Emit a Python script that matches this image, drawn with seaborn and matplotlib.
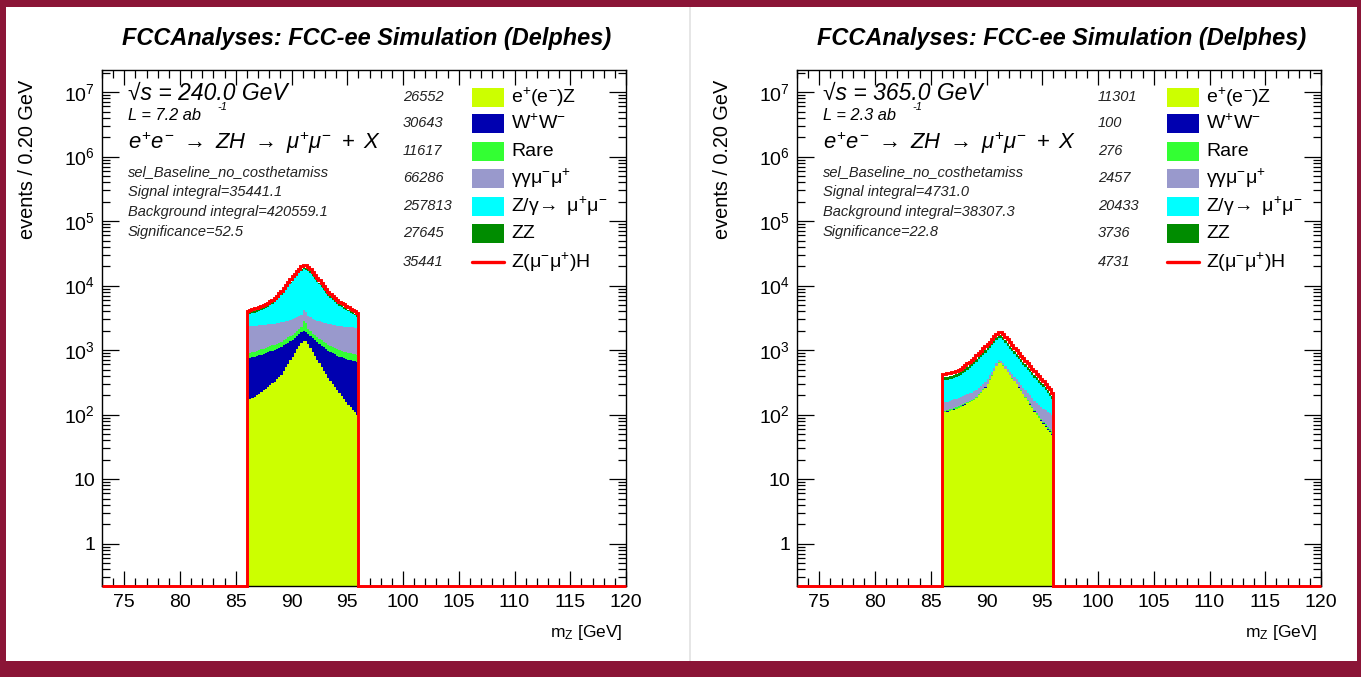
import numpy as np
import pandas as pd
import seaborn as sns
import matplotlib
matplotlib.use("Agg")
import matplotlib.pyplot as plt
from matplotlib.patches import Rectangle
from matplotlib.lines import Line2D
from matplotlib.ticker import MultipleLocator, LogLocator, FuncFormatter, NullFormatter

# ---------------------------------------------------------------- data
bin_width = 0.2
x_lo, x_hi = 73.0, 120.0
stack_lo, stack_hi = 86.0, 96.0
y_lo, y_hi = 0.22, 2.2e7

processes = ["eeZ", "WW", "Rare", "aamumu", "Zgamma", "ZZ"]
proc_labels = [r"$\mathrm{e^{+}(e^{-})Z}$", r"$\mathrm{W^{+}W^{-}}$", "Rare",
               r"$\mathrm{\gamma\gamma\mu^{-}\mu^{+}}$",
               r"$\mathrm{Z/\gamma\!\rightarrow\ \mu^{+}\mu^{-}}$", "ZZ"]
signal_label = r"$\mathrm{Z(\mu^{-}\mu^{+})H}$"
proc_colors = ["#ccff00", "#0000b0", "#33ff33", "#9999cc", "#00ffff", "#008c00"]
signal_color = "#ff0000"

# ---- sqrt(s) = 240 GeV, events per 0.2 GeV bin from 86.0 to 96.0 GeV
eez_240 = [170, 175, 182, 190, 200, 212, 224, 238, 252, 268,
           285, 304, 325, 350, 378, 410, 470, 540, 610, 690,
           780, 900, 1030, 1170, 1300, 1400, 1380, 1230, 1080, 940,
           820, 710, 630, 550, 480, 420, 370, 335, 300, 270,
           240, 217, 195, 176, 158, 142, 130, 118, 108, 99]
ww_240 = [580, 585, 590, 600, 610, 620, 630, 640, 650, 660,
          670, 680, 690, 700, 705, 710, 710, 705, 700, 690,
          675, 660, 640, 620, 600, 570, 560, 560, 570, 580,
          595, 605, 615, 620, 620, 615, 610, 600, 590, 585,
          580, 578, 576, 574, 572, 570, 568, 566, 565, 565]
rare_240 = [150, 152, 155, 158, 162, 166, 170, 175, 180, 186,
            192, 198, 205, 212, 220, 228, 238, 248, 258, 270,
            282, 295, 310, 330, 380, 900, 700, 330, 300, 285,
            272, 262, 254, 246, 240, 234, 228, 223, 218, 214,
            210, 206, 203, 200, 198, 196, 194, 192, 190, 190]
aamumu_240 = [1450, 1445, 1440, 1435, 1430, 1425, 1420, 1410, 1400, 1390,
              1380, 1370, 1360, 1350, 1340, 1330, 1320, 1310, 1300, 1290,
              1280, 1270, 1265, 1260, 1260, 1300, 1300, 1260, 1260, 1265,
              1270, 1280, 1290, 1300, 1310, 1320, 1330, 1335, 1340, 1345,
              1350, 1355, 1360, 1362, 1365, 1367, 1370, 1370, 1370, 1370]
zgamma_240 = [1184, 1263, 1340, 1427, 1529, 1645, 1763, 1890, 2043, 2203,
              2386, 2663, 3023, 3421, 3865, 4477, 5192, 5989, 6872, 7835,
              8965, 10063, 11237, 12395, 13527, 13846, 13731, 13342, 12306, 11067,
              9801, 8607, 7641, 6765, 5884, 5083, 4358, 3885, 3500, 3103,
              2792, 2514, 2277, 2084, 1888, 1690, 1531, 1374, 1215, 1051]
zz_240 = [248, 254, 260, 267, 276, 286, 295, 306, 318, 330,
          345, 366, 393, 424, 457, 502, 557, 617, 684, 756,
          841, 926, 1016, 1107, 1198, 1264, 1240, 1174, 1089, 992,
          895, 805, 732, 666, 599, 538, 484, 448, 417, 387,
          363, 342, 324, 309, 293, 278, 266, 254, 242, 230]
signal_240 = [318, 326, 333, 343, 353, 366, 378, 391, 407, 423,
              442, 469, 504, 543, 585, 643, 713, 791, 876, 969,
              1077, 1186, 1302, 1418, 1535, 1620, 1589, 1504, 1395, 1271,
              1147, 1031, 938, 853, 767, 690, 620, 574, 535, 496,
              465, 438, 415, 395, 376, 357, 341, 326, 310, 295]
yields_240 = ["26552", "30643", "11617", "66286", "257813", "27645", "35441"]
info_240 = ["√s = 240.0 GeV", "L = 7.2 ab", "sel_Baseline_no_costhetamiss",
            "Signal integral=35441.1", "Background integral=420559.1", "Significance=52.5"]

# ---- sqrt(s) = 365 GeV
eez_365 = [105, 108, 110, 113, 116, 119, 122, 126, 131, 137,
           143, 149, 155, 161, 168, 180, 198, 218, 240, 262,
           295, 345, 400, 470, 560, 640, 620, 570, 510, 455,
           405, 360, 330, 295, 262, 232, 205, 180, 160, 142,
           126, 110, 98, 88, 79, 71, 64, 58, 53, 48]
ww_365 = [2, 2, 2, 2, 2, 2, 2, 2, 2, 2,
          2, 2, 2, 2, 2, 2, 2, 2, 2, 2,
          2, 2, 2, 2, 2, 2, 2, 2, 2, 2,
          2, 2, 2, 2, 2, 2, 2, 2, 2, 2,
          2, 2, 2, 2, 2, 2, 2, 2, 2, 2]
rare_365 = [5, 5, 5, 5, 5, 6, 6, 6, 6, 6,
            6, 6, 6, 6, 6, 6, 6, 6, 6, 6,
            6, 6, 6, 6, 6, 6, 6, 6, 6, 6,
            6, 6, 5, 5, 5, 5, 5, 5, 5, 5,
            5, 5, 5, 5, 5, 5, 5, 5, 5, 5]
aamumu_365 = [40, 41, 42, 43, 44, 45, 46, 47, 48, 49,
              50, 50, 51, 51, 52, 52, 52, 53, 53, 53,
              53, 53, 53, 53, 53, 53, 53, 53, 53, 53,
              52, 52, 52, 51, 51, 51, 50, 50, 49, 49,
              48, 48, 47, 47, 46, 46, 45, 45, 44, 44]
zgamma_365 = [190, 188, 188, 189, 192, 197, 205, 214, 226, 240,
              261, 287, 315, 347, 381, 422, 459, 502, 544, 593,
              640, 670, 718, 776, 814, 813, 857, 804, 720, 647,
              587, 536, 479, 436, 397, 363, 331, 305, 278, 252,
              229, 210, 190, 171, 155, 139, 123, 107, 91, 76]
zz_365 = [39, 39, 39, 40, 40, 41, 43, 44, 46, 49,
          52, 56, 60, 64, 69, 74, 81, 88, 95, 103,
          112, 121, 133, 147, 161, 170, 173, 161, 145, 131,
          118, 108, 98, 89, 81, 74, 67, 61, 56, 51,
          46, 42, 39, 35, 32, 30, 27, 24, 22, 20]
signal_365 = [49, 49, 50, 50, 51, 52, 54, 56, 59, 62,
              66, 70, 76, 81, 87, 94, 102, 111, 120, 131,
              142, 153, 168, 186, 204, 216, 219, 204, 184, 166,
              150, 136, 124, 112, 102, 93, 85, 77, 70, 64,
              59, 53, 49, 45, 41, 37, 34, 31, 28, 25]
yields_365 = ["11301", "100", "276", "2457", "20433", "3736", "4731"]
info_365 = ["√s = 365.0 GeV", "L = 2.3 ab", "sel_Baseline_no_costhetamiss",
            "Signal integral=4731.0", "Background integral=38307.3", "Significance=22.8"]

title_text = "FCCAnalyses: FCC-ee Simulation (Delphes)"
ylabel_text = "events / 0.20 GeV"
xlabel_text = r"m$_{\mathrm{Z}}$ [GeV]"
lumi_unit_text = "-1"
process_text = r"$e^{+}e^{-}\ \rightarrow\ ZH\ \rightarrow\ \mu^{+}\mu^{-}\ +\ X$"
x_major = [75, 80, 85, 90, 95, 100, 105, 110, 115, 120]
y_major = [1, 10, 1e2, 1e3, 1e4, 1e5, 1e6, 1e7]

# ---------------------------------------------------------------- style
sns.set_theme(style="ticks")
plt.rcParams["font.family"] = ["Liberation Sans", "DejaVu Sans"]
plt.rcParams["mathtext.fontset"] = "custom"
plt.rcParams["mathtext.rm"] = "Liberation Sans"
plt.rcParams["mathtext.it"] = "Liberation Sans:italic"
plt.rcParams["mathtext.bf"] = "Liberation Sans:bold"
plt.rcParams["mathtext.sf"] = "Liberation Sans"
for key in ["text.color", "axes.labelcolor", "xtick.color", "ytick.color", "axes.edgecolor"]:
    plt.rcParams[key] = "black"

W, H = 1361, 677
fig = plt.figure(figsize=(W / 100, H / 100), dpi=100)
fig.patch.set_facecolor("#8b1537")
fig.patches.append(Rectangle((6 / W, 1 - 661 / H), (1357 - 6) / W, (661 - 7) / H,
                             transform=fig.transFigure, facecolor="white",
                             edgecolor="none", zorder=-10))
fig.patches.append(Rectangle((689 / W, 1 - 661 / H), 2 / W, (661 - 7) / H,
                             transform=fig.transFigure, facecolor="#e6e6e6",
                             edgecolor="none", zorder=-9))


def log_fmt(v, pos):
    e = int(round(np.log10(v)))
    if e == 0:
        return "1"
    if e == 1:
        return "10"
    return r"$10^{%d}$" % e


def draw_panel(x0_px, bkg, sig, yields, info):
    ax_w, ax_h = 524, 516
    ax = fig.add_axes([x0_px / W, 1 - 586 / H, ax_w / W, ax_h / H])
    n = len(sig)
    edges = np.round(np.linspace(stack_lo, stack_hi, n + 1), 2)
    centers = (edges[:-1] + edges[1:]) / 2
    df = pd.DataFrame({
        "mz": np.tile(centers, len(processes)),
        "events": np.concatenate([np.asarray(b, float) for b in bkg]),
        "process": np.repeat(processes, n),
    })
    ax.set_yscale("log")
    sns.histplot(data=df, x="mz", weights="events", hue="process",
                 hue_order=processes[::-1],
                 palette=dict(zip(processes, proc_colors)),
                 bins=[float(e) for e in edges], multiple="stack",
                 element="step", fill=True,
                 alpha=1, linewidth=0, legend=False, ax=ax)
    # signal stacked on top, drawn as outline over the full axis range
    n_full = int(round((x_hi - x_lo) / bin_width))
    edges_full = np.round(np.linspace(x_lo, x_hi, n_full + 1), 2)
    full = np.zeros(n_full)
    i0 = int(round((stack_lo - x_lo) / bin_width))
    full[i0:i0 + n] = np.sum(np.asarray(bkg, float), axis=0) + np.asarray(sig, float)
    ax.stairs(np.maximum(full, y_lo), edges_full, color=signal_color, lw=2.1,
              baseline=None, clip_on=False, zorder=5)

    ax.set_xlim(x_lo, x_hi)
    ax.set_ylim(y_lo, y_hi)
    ax.set_xlabel("")
    ax.set_ylabel("")
    ax.set_xticks(x_major)
    ax.xaxis.set_minor_locator(MultipleLocator(1))
    ax.set_yticks(y_major)
    ax.yaxis.set_minor_locator(LogLocator(base=10, subs=np.arange(2, 10), numticks=20))
    ax.yaxis.set_major_formatter(FuncFormatter(log_fmt))
    ax.yaxis.set_minor_formatter(NullFormatter())
    ax.set_ylim(y_lo, y_hi)
    ax.tick_params(which="both", direction="in", top=True, right=True,
                   colors="black", labelsize=14, width=0.9)
    ax.tick_params(which="major", length=11, pad=6)
    ax.tick_params(which="minor", length=5.5)
    ax.tick_params(axis="y", which="major", length=12, pad=5)
    for s in ax.spines.values():
        s.set_visible(True)
        s.set_color("black")
        s.set_linewidth(1.0)
    ax.set_facecolor("white")

    def fx(px):
        return px / ax_w

    def fy(py):
        return (586 - py) / ax_h

    tx = fx(26)
    ax.text(tx, fy(93), info[0], transform=ax.transAxes, fontsize=16.5,
            style="italic", va="center", ha="left")
    ax.text(tx, fy(116), info[1], transform=ax.transAxes, fontsize=11.8,
            style="italic", va="center", ha="left")
    ax.text(fx(115), fy(107), lumi_unit_text, transform=ax.transAxes, fontsize=8,
            style="italic", va="center", ha="left")
    ax.text(tx, fy(143), process_text, transform=ax.transAxes, fontsize=15.8,
            va="center", ha="left")
    for k, yy in enumerate([172, 192, 212, 232]):
        ax.text(tx, fy(yy), info[2 + k], transform=ax.transAxes, fontsize=10.5,
                style="italic", va="center", ha="left", color="#222222")

    rows = [97, 123, 151, 178, 206, 233, 262]
    for k, yy in enumerate(rows):
        ax.text(fx(301), fy(yy), yields[k], transform=ax.transAxes, fontsize=10.5,
                style="italic", va="center", ha="left", color="#222222")
        if k < len(processes):
            ax.add_patch(Rectangle((fx(370), fy(yy + 9.5)), fx(32),
                                   19 / ax_h, transform=ax.transAxes,
                                   facecolor=proc_colors[k], edgecolor="none"))
            lab = proc_labels[k]
        else:
            ax.add_line(Line2D([fx(370), fx(402)], [fy(yy), fy(yy)],
                               transform=ax.transAxes, color=signal_color, lw=2.4))
            lab = signal_label
        ax.text(fx(409), fy(yy), lab, transform=ax.transAxes, fontsize=14,
                va="center", ha="left")

    ax.text(fx(521), fy(633), xlabel_text, transform=ax.transAxes, fontsize=12.5,
            va="center", ha="right")
    fig.text((x0_px - 74) / W, 1 - 80 / H, ylabel_text, rotation=90, fontsize=14.3,
             ha="center", va="top")
    fig.text((x0_px + 265) / W, 1 - 38 / H, title_text, fontsize=16.9,
             fontweight="bold", style="italic", ha="center", va="center")
    return ax


bkg_240 = [eez_240, ww_240, rare_240, aamumu_240, zgamma_240, zz_240]
bkg_365 = [eez_365, ww_365, rare_365, aamumu_365, zgamma_365, zz_365]
draw_panel(102, bkg_240, signal_240, yields_240, info_240)
draw_panel(797, bkg_365, signal_365, yields_365, info_365)

fig.savefig("out.png", dpi=100, facecolor=fig.get_facecolor())
